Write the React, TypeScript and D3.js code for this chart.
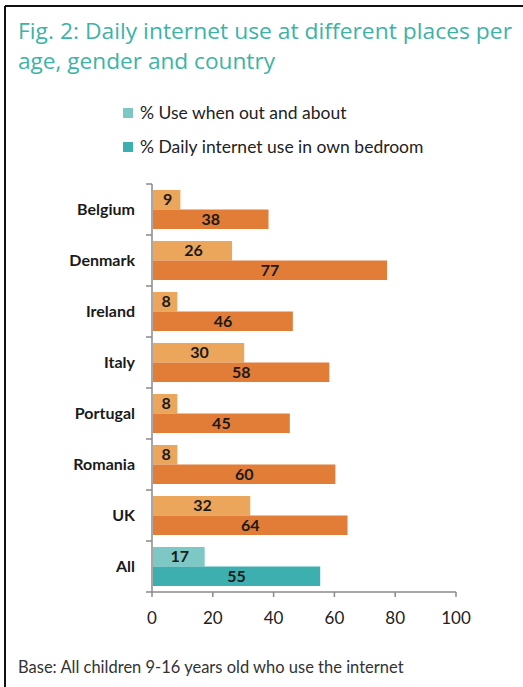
import React from "react";
import * as d3 from "d3";

const countries = ["Belgium", "Denmark", "Ireland", "Italy", "Portugal", "Romania", "UK", "All"];
const outAndAbout = [9, 26, 8, 30, 8, 8, 32, 17];
const bedroom = [38, 77, 46, 58, 45, 60, 64, 55];
const xTicks = [0, 20, 40, 60, 80, 100];
const legendLabels = ["% Use when out and about", "% Daily internet use in own bedroom"];
const titleLines = ["Fig. 2: Daily internet use at different places per", "age, gender and country"];
const footnote = "Base: All children 9-16 years old who use the internet";

const W = 523;
const H = 687;
const x0 = 152;
const x1 = 456;
const yTop = 184;
const yBot = 592;

const colLight = "#EBA65C";
const colDark = "#E27D38";
const tealLight = "#7DC8C4";
const tealDark = "#3EAFAF";

export default function App() {
  const x = d3.scaleLinear().domain([0, 100]).range([x0, x1]);
  const y = d3.scaleBand<string>().domain(countries).range([yTop, yBot]).paddingInner(0.235).paddingOuter(0.1175);
  const sub = d3.scaleBand<string>().domain(["a", "b"]).range([0, y.bandwidth()]);
  const step = y.step();
  const font = "Lato, 'Open Sans', sans-serif";
  return (
    <svg width={W} height={H} style={{ position: "absolute", left: 0, top: 0, background: "#fff" }}>
      <rect x={0} y={0} width={W} height={H} fill="#fff" />
      <line x1={5} y1={6} x2={W} y2={6} stroke="#111" strokeWidth={2} />
      <line x1={5} y1={6} x2={5} y2={H} stroke="#111" strokeWidth={2} />
      {titleLines.map((t, i) => (
        <text key={i} x={18} y={39 + i * 30} fill="#3DB3A6" fontFamily="'Open Sans', sans-serif" fontSize={21}
          textLength={i === 0 ? 494 : 257} lengthAdjust="spacingAndGlyphs">{t}</text>
      ))}
      {legendLabels.map((t, i) => (
        <g key={i}>
          <rect x={123} y={108 + i * 34} width={10} height={10} fill={i === 0 ? tealLight : tealDark} />
          <text x={140} y={119 + i * 34} fill="#222" fontFamily={font} fontSize={17.5}>{t}</text>
        </g>
      ))}
      {countries.map((c, i) => {
        const isAll = c === "All";
        const by = y(c)!;
        return (
          <g key={c}>
            <rect x={x(0) + 1} y={by + sub("a")!} width={x(outAndAbout[i]) - x(0)} height={sub.bandwidth()}
              fill={isAll ? tealLight : colLight} />
            <rect x={x(0) + 1} y={by + sub("b")!} width={x(bedroom[i]) - x(0)} height={sub.bandwidth()}
              fill={isAll ? tealDark : colDark} />
            <text x={(x(0) + x(outAndAbout[i])) / 2 + 2} y={by + sub("a")! + sub.bandwidth() / 2 + 5.5}
              textAnchor="middle" fontFamily={font} fontWeight={700} fontSize={16} fill="#1a1a1a">{outAndAbout[i]}</text>
            <text x={(x(0) + x(bedroom[i])) / 2 + 1} y={by + sub("b")! + sub.bandwidth() / 2 + 5.5}
              textAnchor="middle" fontFamily={font} fontWeight={700} fontSize={16} fill="#1a1a1a">{bedroom[i]}</text>
            <text x={135} y={by + y.bandwidth() / 2 + 5.5} textAnchor="end" fontFamily={font} fontWeight={700}
              fontSize={16} fill="#1a1a1a">{c}</text>
          </g>
        );
      })}
      {/* y axis */}
      <line x1={x0} y1={yTop} x2={x0} y2={yBot} stroke="#8a8a8a" strokeWidth={1.5} />
      {d3.range(countries.length + 1).map((k) => (
        <line key={k} x1={x0 - 6} x2={x0} y1={yTop + k * step} y2={yTop + k * step} stroke="#8a8a8a" strokeWidth={1.5} />
      ))}
      {/* x axis */}
      <line x1={x0} y1={yBot} x2={x1} y2={yBot} stroke="#8a8a8a" strokeWidth={1.5} />
      {xTicks.map((t) => (
        <g key={t}>
          <line x1={x(t)} x2={x(t)} y1={yBot} y2={yBot + 5} stroke="#8a8a8a" strokeWidth={1.5} />
          <text x={x(t)} y={624} textAnchor="middle" fontFamily={font} fontSize={17} fill="#222">{t}</text>
        </g>
      ))}
      <text x={18} y={673} fontFamily={font} fontSize={16.5} fill="#333">{footnote}</text>
    </svg>
  );
}
